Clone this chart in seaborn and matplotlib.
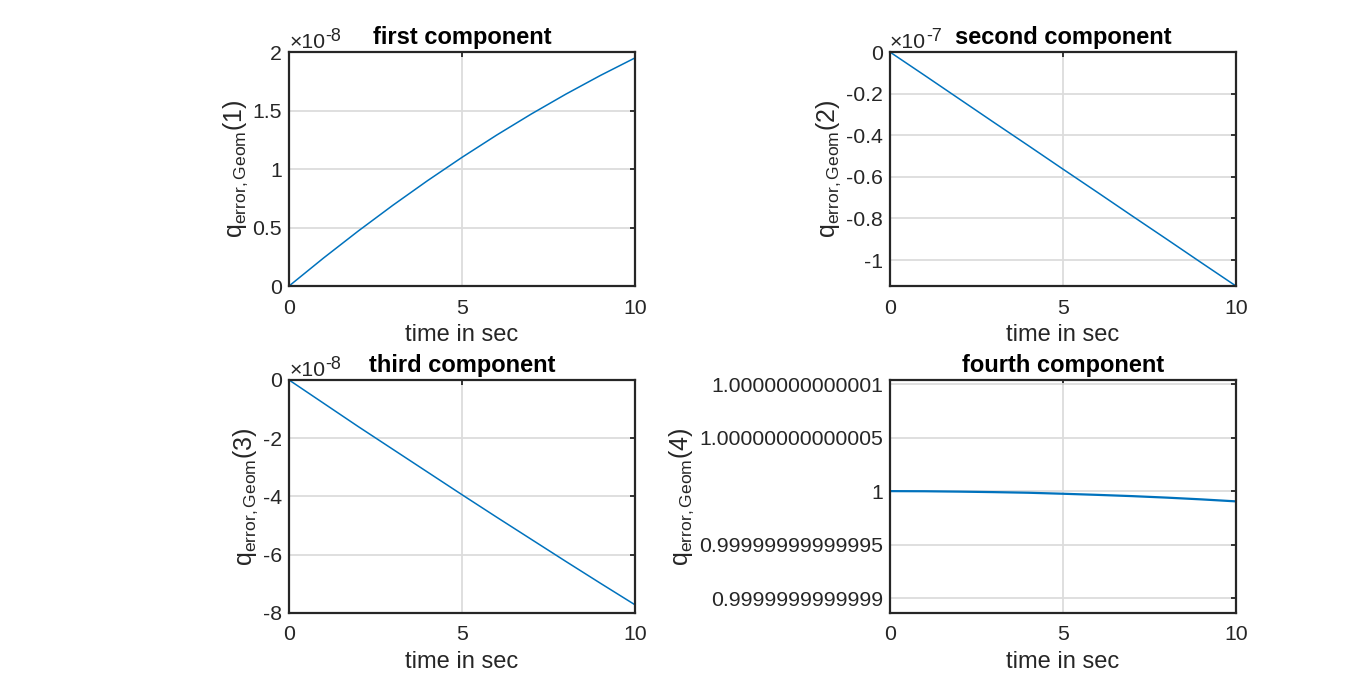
import numpy as np
import pandas as pd
import seaborn as sns
import matplotlib.pyplot as plt

# time axis and the four quaternion error components
t = [0, 1, 2, 3, 4, 5, 6, 7, 8, 9, 10]
q1 = [0, 0.24, 0.47, 0.69, 0.90, 1.10, 1.29, 1.47, 1.64, 1.80, 1.95]          # x1e-8
q2 = [0, -0.112, -0.225, -0.338, -0.45, -0.563, -0.675, -0.788, -0.9, -1.013, -1.125]  # x1e-7
q3 = [0, -0.80, -1.60, -2.38, -3.16, -3.94, -4.71, -5.47, -6.23, -6.98, -7.72]  # x1e-8
q4_dev = [0, -0.01, -0.04, -0.09, -0.16, -0.24, -0.35, -0.47, -0.61, -0.78, -0.96]  # (q4-1) x1e-14

titles = ["first component", "second component", "third component", "fourth component"]
exponents = ["-8", "-7", "-8", None]
yticks = [[0, 0.5, 1, 1.5, 2],
          [-1, -0.8, -0.6, -0.4, -0.2, 0],
          [-8, -6, -4, -2, 0],
          [1 - 1e-13, 1 - 5e-14, 1.0, 1 + 5e-14, 1 + 1e-13]]
yticklabels = [["0", "0.5", "1", "1.5", "2"],
               ["-1", "-0.8", "-0.6", "-0.4", "-0.2", "0"],
               ["-8", "-6", "-4", "-2", "0"],
               ["0.9999999999999", "0.99999999999995", "1", "1.00000000000005", "1.0000000000001"]]
ylims = [(0, 2), (-1.125, 0), (-8, 0), (1 - 1.14e-13, 1 + 1.04e-13)]

sns.set_theme(style="white")
plt.rcParams['font.family'] = ['Liberation Sans', 'DejaVu Sans']
plt.rcParams['mathtext.fontset'] = 'custom'
plt.rcParams['mathtext.rm'] = 'Liberation Sans'
plt.rcParams['mathtext.it'] = 'Liberation Sans'

fs = 15.3      # tick labels
fl = 17        # axis labels and titles
dark = '#262626'
blue = '#0072BD'

fig = plt.figure(figsize=(13.66, 6.91), dpi=100)
fig.patch.set_facecolor('white')

positions = [[0.2116, 0.5861, 0.2533, 0.3386],
             [0.6515, 0.5861, 0.2533, 0.3386],
             [0.2116, 0.1129, 0.2533, 0.3372],
             [0.6515, 0.1129, 0.2533, 0.3372]]

series = [q1, q2, q3, list(1 + np.array(q4_dev) * 1e-14)]

for i in range(4):
    ax = fig.add_axes(positions[i])
    df = pd.DataFrame({"t": t, "q": series[i]})
    sns.lineplot(data=df, x="t", y="q", ax=ax, color=blue,
                 linewidth=1.6 if i == 3 else 1.1)
    ax.set_xlim(0, 10)
    ax.set_ylim(*ylims[i])
    ax.set_xticks([0, 5, 10])
    ax.set_xticklabels(["0", "5", "10"])
    ax.set_yticks(yticks[i])
    ax.set_yticklabels(yticklabels[i])
    ax.grid(True, color='#dcdcdc', linewidth=1.3)
    ax.set_axisbelow(True)
    for s in ax.spines.values():
        s.set_visible(True)
        s.set_color(dark)
        s.set_linewidth(1.6)
    ax.tick_params(direction='in', top=True, right=True, length=3.5, width=1.3,
                   colors=dark, labelsize=fs)
    ax.tick_params(axis='x', pad=9)
    ax.tick_params(axis='y', pad=5)
    for lab in ax.get_xticklabels() + ax.get_yticklabels():
        lab.set_color(dark)
    ax.set_xlabel("time in sec", fontsize=fl, color=dark, labelpad=5)
    ax.set_ylabel(r'$\mathregular{q_{error,Geom}(%d)}$' % (i + 1), fontsize=fl + 1,
                  color=dark, labelpad=2)
    ax.set_title(titles[i], fontsize=fl, fontweight='bold', color='black', pad=6)
    if exponents[i] is not None:
        base = ax.text(0.0, 1.0, "×10", transform=ax.transAxes, ha='left',
                       va='bottom', fontsize=fs, color=dark)
        ax.annotate(exponents[i], xy=(1.0, 0.38), xycoords=base, ha='left',
                    va='bottom', fontsize=fs * 0.85, color=dark)

fig.savefig("out.png", dpi=100, facecolor='white')
